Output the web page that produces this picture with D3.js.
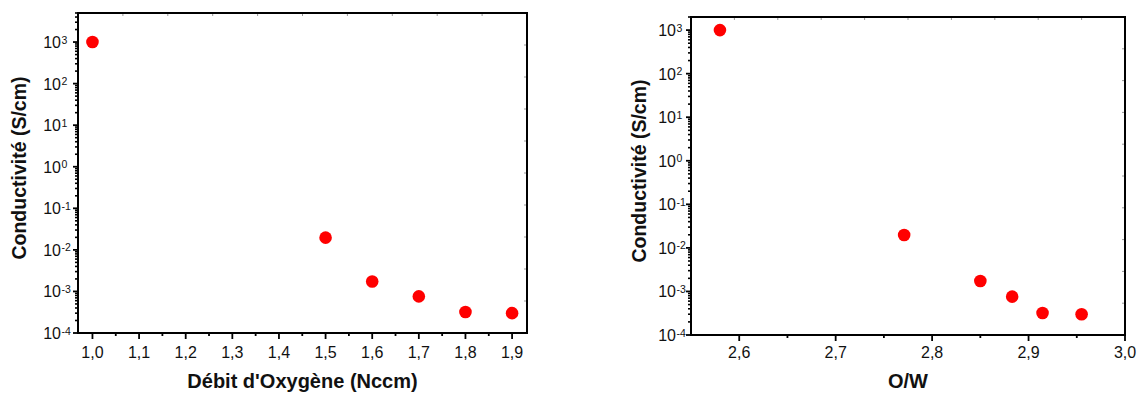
<!DOCTYPE html>
<html>
<head>
<meta charset="utf-8">
<script src="https://cdn.jsdelivr.net/npm/d3@7"></script>
<style>
  html, body { margin: 0; padding: 0; background: #fff; }
  svg { display: block; }
  text { font-family: "Liberation Sans", Arial, sans-serif; fill: #111; }
</style>
</head>
<body>
<svg id="chart" width="1141" height="394"></svg>
<script>
// ---- data ----
const flowRate = [1.0, 1.5, 1.6, 1.7, 1.8, 1.9];            // Débit d'Oxygène (Nccm)
const owRatio = [2.58, 2.771, 2.85, 2.883, 2.9145, 2.955];   // O/W
const conductivity = [1000, 0.0197, 0.00174, 0.00076, 0.00032, 0.0003]; // S/cm
const flowTicks = [1.0, 1.1, 1.2, 1.3, 1.4, 1.5, 1.6, 1.7, 1.8, 1.9];
const flowMinor = [1.05, 1.15, 1.25, 1.35, 1.45, 1.55, 1.65, 1.75, 1.85];
const owTicks = [2.6, 2.7, 2.8, 2.9, 3.0];
const owMinor = [2.65, 2.75, 2.85, 2.95];
const expTicks = [-4, -3, -2, -1, 0, 1, 2, 3];
const yLabel = "Conductivité (S/cm)";
const xLabels = ["Débit d'Oxygène (Nccm)", "O/W"];

const svg = d3.select("#chart");
const fmt = v => d3.format(".1f")(v).replace(".", ",");

function panel(o) {
  const g = svg.append("g");
  const x = d3.scaleLinear().domain(o.xDomain).range([o.left, o.right]);
  const y = d3.scaleLog().domain(o.yDomain).range([o.bottom, o.top]);

  // faint top/right ticks (10 equal divisions)
  const fx = d3.scaleLinear().domain([0, 10]).range([o.left, o.right]);
  const fy = d3.scaleLinear().domain([0, 10]).range([o.bottom, o.top]);
  g.selectAll(".tt").data(d3.range(1, 10)).join("line")
    .attr("x1", d => fx(d)).attr("x2", d => fx(d))
    .attr("y1", o.top).attr("y2", o.top + 3)
    .attr("stroke", "#999").attr("stroke-width", 1);
  g.selectAll(".rt").data(d3.range(1, 10)).join("line")
    .attr("y1", d => fy(d)).attr("y2", d => fy(d))
    .attr("x1", o.right).attr("x2", o.right - 3)
    .attr("stroke", "#999").attr("stroke-width", 1);

  // y minor ticks (log)
  const [ylo, yhi] = o.yDomain;
  const minors = [];
  for (let e = Math.floor(Math.log10(ylo)); e <= Math.ceil(Math.log10(yhi)); e++) {
    for (let k = 2; k <= 9; k++) {
      const v = k * Math.pow(10, e);
      if (v > ylo && v <= yhi) minors.push(v);
    }
  }
  g.selectAll(".ym").data(minors).join("line")
    .attr("x1", o.left).attr("x2", o.left - 3)
    .attr("y1", d => y(d)).attr("y2", d => y(d))
    .attr("stroke", "#000").attr("stroke-width", 1.6);
  // y major ticks
  g.selectAll(".yM").data(expTicks).join("line")
    .attr("x1", o.left).attr("x2", o.left - 5)
    .attr("y1", d => y(Math.pow(10, d))).attr("y2", d => y(Math.pow(10, d)))
    .attr("stroke", "#000").attr("stroke-width", 1.8);
  // y labels
  expTicks.forEach(e => {
    const yy = y(Math.pow(10, e));
    g.append("text").attr("x", o.left - o.ylabOff).attr("y", yy + 6)
      .attr("text-anchor", "end").attr("font-size", 16).text("10");
    g.append("text").attr("x", o.left - o.ylabOff + 0.5).attr("y", yy + 1.5)
      .attr("text-anchor", "start").attr("font-size", 10.5).text(String(e));
  });

  // x ticks
  g.selectAll(".xm").data(o.xMinor).join("line")
    .attr("x1", d => x(d)).attr("x2", d => x(d))
    .attr("y1", o.bottom).attr("y2", o.bottom + 3)
    .attr("stroke", "#000").attr("stroke-width", 1.8);
  g.selectAll(".xM").data(o.xTicks).join("line")
    .attr("x1", d => x(d)).attr("x2", d => x(d))
    .attr("y1", o.bottom).attr("y2", o.bottom + 6)
    .attr("stroke", "#000").attr("stroke-width", 1.8);
  g.selectAll(".xl").data(o.xTicks).join("text")
    .attr("x", d => x(d)).attr("y", 358)
    .attr("text-anchor", "middle").attr("font-size", 16).text(d => fmt(d));

  // frame
  g.append("rect").attr("x", o.left).attr("y", o.top)
    .attr("width", o.right - o.left).attr("height", o.bottom - o.top)
    .attr("fill", "none").attr("stroke", "#000").attr("stroke-width", 2);

  // points
  g.selectAll(".pt").data(o.xs.map((v, i) => [v, conductivity[i]])).join("circle")
    .attr("cx", d => x(d[0])).attr("cy", d => y(d[1])).attr("r", 6.3)
    .attr("fill", "#ff0000");

  // axis titles
  g.append("text")
    .attr("transform", `translate(${o.ytitleX},${(o.top + o.bottom) / 2 - 5}) rotate(-90)`)
    .attr("text-anchor", "middle").attr("font-size", 19.5).attr("font-weight", "bold")
    .text(yLabel);
  g.append("text").attr("x", (o.left + o.right) / 2).attr("y", 388)
    .attr("text-anchor", "middle").attr("font-size", 20).attr("font-weight", "bold")
    .text(o.xLabel);
}

panel({
  left: 78, right: 527, top: 13, bottom: 333,
  xDomain: [0.969, 1.932], yDomain: [1e-4, 5000],
  xTicks: flowTicks, xMinor: flowMinor, xs: flowRate,
  xLabel: xLabels[0], ylabOff: 17, ytitleX: 26
});
panel({
  left: 691, right: 1125, top: 17, bottom: 335,
  xDomain: [2.55, 3.0], yDomain: [1e-4, 2000],
  xTicks: owTicks, xMinor: owMinor, xs: owRatio,
  xLabel: xLabels[1], ylabOff: 15, ytitleX: 646
});
</script>
</body>
</html>
